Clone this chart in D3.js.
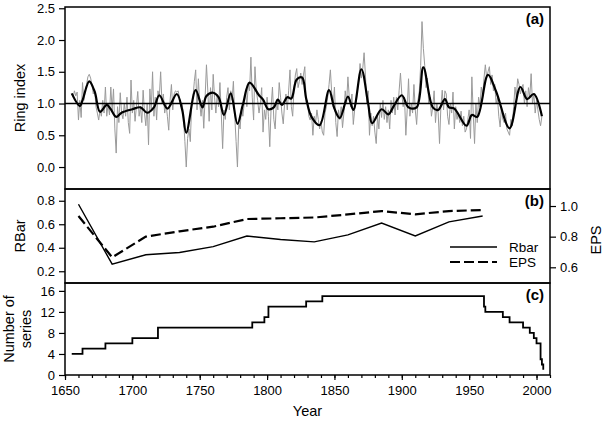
<!DOCTYPE html>
<html>
<head>
<meta charset="utf-8">
<script src="https://cdn.jsdelivr.net/npm/d3@7"></script>
<style>
  body { margin: 0; background: #fff; }
  svg text { font-family: "Liberation Sans", Arial, Helvetica, sans-serif; fill: #000; }
</style>
</head>
<body>
<svg id="chart" width="605" height="422"></svg>
<script>
/* ---------- Data ---------- */

// (a) annual ring index, one value per year starting at firstYear
const firstYear = 1655;
const ringIndex = [
  1.15,1.10,1.20,1.12,1.18,0.74,1.05,0.78,1.33,1.05,   // 1655
  1.20,1.30,1.42,1.46,1.40,1.30,1.15,1.22,0.95,0.85,   // 1665
  0.74,0.90,0.80,1.05,0.85,1.26,0.80,1.00,0.82,1.26,   // 1675
  0.90,1.23,0.60,0.22,0.95,0.70,1.17,0.85,0.76,1.00,   // 1685
  0.80,1.10,0.70,0.53,1.37,0.85,1.05,0.72,0.95,1.19,   // 1695
  0.80,0.95,0.70,1.21,0.85,0.65,1.00,0.35,1.23,0.90,   // 1705
  1.50,0.80,1.10,0.74,1.20,1.10,1.50,1.00,1.15,0.85,   // 1715
  1.00,0.80,0.58,1.05,1.30,0.90,1.15,1.20,1.18,1.20,   // 1725
  1.08,0.95,1.00,0.75,0.40,0.00,0.45,0.60,0.40,0.95,   // 1735
  1.10,1.35,1.53,0.90,1.39,1.00,0.80,1.05,0.61,1.10,   // 1745
  1.61,1.20,0.72,1.25,0.90,1.46,1.10,0.85,1.15,0.95,   // 1755
  1.33,0.85,0.29,0.90,0.75,1.10,1.25,0.90,1.20,1.05,   // 1765
  1.35,0.80,0.40,0.00,0.70,0.60,0.95,0.80,1.00,1.20,   // 1775
  0.95,1.30,1.20,1.73,1.10,0.74,1.58,1.20,1.05,0.85,   // 1785
  1.00,1.25,0.55,0.90,0.75,1.10,0.80,0.32,0.95,1.26,   // 1795
  0.75,0.60,1.05,0.90,1.33,1.10,0.85,0.68,1.00,1.15,   // 1805
  0.90,1.20,1.53,0.95,0.80,1.25,1.45,1.55,1.25,1.35,   // 1815
  1.48,1.30,1.45,1.58,1.00,1.05,0.80,0.74,0.85,0.50,   // 1825
  0.80,0.70,0.90,0.75,0.60,0.72,0.55,0.50,0.85,0.95,   // 1835
  1.10,1.30,1.53,1.15,0.95,1.26,0.70,0.48,0.90,0.75,   // 1845
  0.95,0.62,0.85,1.20,1.00,1.42,1.10,0.95,1.15,0.67,   // 1855
  0.90,1.00,1.20,1.35,1.63,1.40,1.55,1.80,1.45,1.00,   // 1865
  1.20,0.50,0.85,0.65,0.80,0.55,0.37,0.80,0.60,1.00,   // 1875
  0.78,1.05,0.75,0.95,0.70,0.90,0.60,1.05,0.85,1.10,   // 1885
  0.82,1.10,0.90,1.20,1.48,1.15,0.95,1.10,0.50,0.90,   // 1895
  1.39,0.80,1.00,0.85,1.30,0.90,0.67,1.05,1.20,1.60,   // 1905
  2.29,1.87,1.60,1.25,1.40,1.00,1.10,0.80,0.95,1.20,   // 1915
  0.70,1.00,0.85,0.37,0.95,1.21,0.90,1.20,1.15,0.80,   // 1925
  0.67,1.00,0.85,1.18,0.60,0.95,0.75,0.85,0.70,0.88,   // 1935
  0.65,0.80,0.55,0.60,0.75,0.90,0.45,1.42,0.85,0.37,   // 1945
  1.00,0.70,1.10,0.95,1.26,1.10,1.40,1.61,1.40,1.50,   // 1955
  1.58,1.30,1.45,1.20,1.30,1.00,1.10,0.80,0.63,0.95,   // 1965
  0.75,0.70,0.85,0.60,0.55,0.50,0.75,0.65,0.95,1.26,   // 1975
  1.10,1.39,1.30,1.15,1.25,1.30,1.00,1.20,0.95,1.25,   // 1985
  1.10,1.47,1.00,1.15,0.85,1.05,0.90,0.75,0.65,0.80    // 1995
];

// (a) smoothed curve
const smoothYears = [1655,1661,1663,1668,1672,1676,1681,1684,1688,1692,1700,1706,1711,1716,1720,
  1726,1733,1737,1740,1747,1752,1755,1760,1764,1768,1773,1778,1782,1787,1794,1797,1801,1805,
  1808,1811,1815,1818,1822,1826,1829,1833,1839,1846,1850,1854,1860,1864,1870,1875,1878,1885,
  1890,1894,1900,1905,1911,1916,1923,1927,1932,1935,1939,1948,1952,1956,1964,1970,1980,1988,
  1993,1998,2004];
const smoothValues = [1.16,0.96,1.05,1.35,1.19,0.87,0.98,0.91,0.79,0.855,0.91,0.94,0.855,0.94,1.13,
  0.92,1.15,0.90,0.54,1.21,0.94,1.12,1.17,1.10,0.82,1.16,0.68,0.98,1.33,1.13,1.06,0.91,0.94,
  1.06,0.98,1.10,1.08,1.38,1.41,1.08,0.79,0.66,1.21,0.92,0.77,1.11,0.90,1.54,1.00,0.69,0.91,
  0.83,0.96,1.13,0.94,0.94,1.57,0.94,0.90,1.07,0.94,0.92,0.65,0.82,0.79,1.45,1.19,0.61,1.26,
  1.07,1.15,0.80];

// (b) running statistics
const windowYears = [1660,1685,1710,1735,1760,1785,1810,1835,1860,1885,1910,1935,1960];
const rbarValues  = [0.77,0.26,0.34,0.36,0.41,0.50,0.47,0.45,0.51,0.61,0.50,0.62,0.67];
const epsValues   = [0.935,0.665,0.80,0.835,0.865,0.915,0.92,0.925,0.945,0.967,0.946,0.967,0.974];

// (c) sample depth (count holds from that year on)
const depthYears  = [1655,1663,1680,1700,1719,1789,1798,1801,1829,1841,1960,1961,1962,1975,1980,1990,1995,1998,2000,2003,2004,2005];
const depthCounts = [4,5,6,7,9,10,11,13,14,15,15,13,12,11,10,9,8,7,6,3,2,1];

const yearTicks  = [1650,1700,1750,1800,1850,1900,1950,2000];
const ringTicks  = [0,0.5,1,1.5,2,2.5];
const rbarTicks  = [0.2,0.4,0.6,0.8];
const epsTicks   = [0.6,0.8,1.0];
const depthTicks = [0,4,8,12,16];

/* ---------- Layout ---------- */
const svg = d3.select("#chart");
const L = 65, R = 550;
const pa = {top: 7, bottom: 189};
const pb = {top: 189, bottom: 283};
const pc = {top: 283, bottom: 375};

const x = d3.scaleLinear().domain([1650, 2010]).range([L, R]);
const yA = d3.scaleLinear().domain([-0.346, 2.52]).range([pa.bottom, pa.top]);
const yB = d3.scaleLinear().domain([0.1, 0.9]).range([pb.bottom, pb.top]);
const yE = d3.scaleLinear().domain([0.4976, 1.111]).range([pb.bottom, pb.top]);
const yC = d3.scaleLinear().domain([0, 17.5]).range([pc.bottom, pc.top]);

function leftAxis(scale, ticks, fmt){
  const g = svg.append("g").attr("transform", `translate(${L},0)`)
    .call(d3.axisLeft(scale).tickValues(ticks).tickSize(6).tickPadding(4).tickFormat(fmt));
  g.select(".domain").remove();
  g.selectAll("line").attr("stroke", "#000").attr("stroke-width", 1.2);
  g.selectAll("text").attr("font-size", 13);
  return g;
}

/* ---------- Panel (a) ---------- */
const ringData = ringIndex.map((v, i) => ({year: firstYear + i, v}));
svg.append("path")
  .datum(ringData)
  .attr("fill", "none").attr("stroke", "#9a9a9a").attr("stroke-width", 1)
  .attr("d", d3.line().x(d => x(d.year)).y(d => yA(d.v)));

svg.append("line")
  .attr("x1", L).attr("x2", R).attr("y1", yA(1)).attr("y2", yA(1))
  .attr("stroke", "#000").attr("stroke-width", 1.3);

const smoothData = smoothYears.map((yr, i) => ({year: yr, v: smoothValues[i]}));
svg.append("path")
  .datum(smoothData)
  .attr("fill", "none").attr("stroke", "#000").attr("stroke-width", 2.2)
  .attr("stroke-linejoin", "round")
  .attr("d", d3.line().curve(d3.curveCatmullRom.alpha(0.5)).x(d => x(d.year)).y(d => yA(d.v)));

leftAxis(yA, ringTicks, d3.format(".1f"));

/* ---------- Panel (b) ---------- */
const statData = windowYears.map((yr, i) => ({year: yr, r: rbarValues[i], e: epsValues[i]}));
svg.append("path")
  .datum(statData)
  .attr("fill", "none").attr("stroke", "#000").attr("stroke-width", 1.4)
  .attr("d", d3.line().x(d => x(d.year)).y(d => yB(d.r)));
svg.append("path")
  .datum(statData)
  .attr("fill", "none").attr("stroke", "#000").attr("stroke-width", 2.2)
  .attr("stroke-dasharray", "10,4")
  .attr("d", d3.line().x(d => x(d.year)).y(d => yE(d.e)));

leftAxis(yB, rbarTicks, d3.format(".1f"));

const gE = svg.append("g").attr("transform", `translate(${R},0)`)
  .call(d3.axisRight(yE).tickValues(epsTicks).tickSize(6).tickPadding(4).tickFormat(d3.format(".1f")));
gE.select(".domain").remove();
gE.selectAll("line").attr("stroke", "#000").attr("stroke-width", 1.2);
gE.selectAll("text").attr("font-size", 13);

// legend
const legend = [
  {label: "Rbar", dash: null, w: 1.4, y: 247},
  {label: "EPS", dash: "10,4", w: 2.2, y: 262}
];
legend.forEach(d => {
  svg.append("line")
    .attr("x1", 450).attr("x2", 497).attr("y1", d.y).attr("y2", d.y)
    .attr("stroke", "#000").attr("stroke-width", d.w)
    .attr("stroke-dasharray", d.dash);
  svg.append("text").attr("x", 509).attr("y", d.y).attr("dy", "0.35em")
    .attr("font-size", 13.5).text(d.label);
});

/* ---------- Panel (c) ---------- */
const depthData = depthYears.map((yr, i) => ({year: yr, n: depthCounts[i]}));
svg.append("path")
  .datum(depthData)
  .attr("fill", "none").attr("stroke", "#000").attr("stroke-width", 1.8)
  .attr("d", d3.line().curve(d3.curveStepAfter).x(d => x(d.year)).y(d => yC(d.n)));

leftAxis(yC, depthTicks, d3.format("d"));

const gX = svg.append("g").attr("transform", `translate(0,${pc.bottom})`)
  .call(d3.axisBottom(x).tickValues(yearTicks).tickSize(5).tickPadding(6).tickFormat(d3.format("d")));
gX.select(".domain").remove();
gX.selectAll("line").attr("stroke", "#000").attr("stroke-width", 1.2);
gX.selectAll("text").attr("font-size", 13);

const gXm = svg.append("g").attr("transform", `translate(0,${pc.bottom})`)
  .call(d3.axisBottom(x).tickValues(d3.range(1650, 2011, 10)).tickSize(3).tickFormat(""));
gXm.select(".domain").remove();
gXm.selectAll("line").attr("stroke", "#000").attr("stroke-width", 1.2);

/* ---------- Frames ---------- */
[pa, pb, pc].forEach(p => {
  svg.append("rect")
    .attr("x", L).attr("y", p.top).attr("width", R - L).attr("height", p.bottom - p.top)
    .attr("fill", "none").attr("stroke", "#000").attr("stroke-width", 1.5);
});

/* ---------- Labels ---------- */
const panelLabels = [["(a)", pa.top + 17], ["(b)", pb.top + 17], ["(c)", pc.top + 17]];
panelLabels.forEach(([t, yy]) => {
  svg.append("text").attr("x", R - 6).attr("y", yy)
    .attr("text-anchor", "end").attr("font-size", 15).attr("font-weight", "bold").text(t);
});

function yTitle(lines, cx, cy){
  const t = svg.append("text")
    .attr("transform", `translate(${cx},${cy}) rotate(-90)`)
    .attr("text-anchor", "middle").attr("font-size", 14.5);
  lines.forEach((s, i) => {
    t.append("tspan").attr("x", 0).attr("dy", i === 0 ? 0 : "1.15em").text(s);
  });
}
yTitle(["Ring index"], 25, (pa.top + pa.bottom) / 2);
yTitle(["RBar"], 25, (pb.top + pb.bottom) / 2);
yTitle(["Number of", "series"], 14, (pc.top + pc.bottom) / 2);

svg.append("text")
  .attr("transform", `translate(601,${(pb.top + pb.bottom) / 2 + 4}) rotate(-90)`)
  .attr("text-anchor", "middle").attr("font-size", 14.5).text("EPS");

svg.append("text").attr("x", (L + R) / 2).attr("y", 416)
  .attr("text-anchor", "middle").attr("font-size", 14.5).text("Year");
</script>
</body>
</html>
